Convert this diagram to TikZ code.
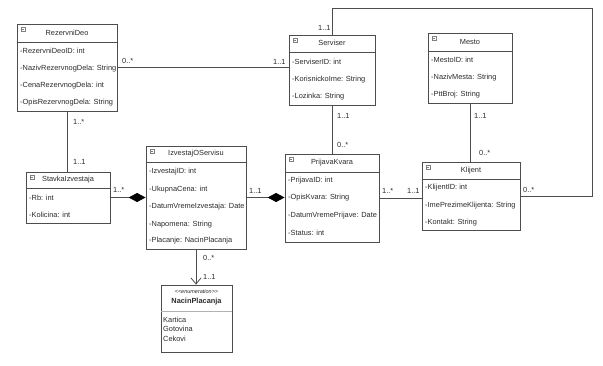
\documentclass[tikz,border=0pt]{standalone}
\usepackage{fontspec}
\newfontfamily\umlfont{Liberation Sans}
\usetikzlibrary{arrows.meta,fit}
\definecolor{linegray}{HTML}{4D4D4D}
\definecolor{textgray}{HTML}{2B2B2B}
\newcommand{\umltext}{\umlfont\fontsize{7.4}{9}\selectfont}
\tikzset{
  classbox/.style={draw=linegray, fill=white, inner sep=0pt, line width=0.8pt},
  divider/.style={draw=linegray, line width=0.6pt},
  attr/.style={anchor=west, inner sep=0pt, text=textgray, font=\umltext},
  cname/.style={inner sep=0pt, text=textgray, font=\umltext},
  mult/.style={anchor=west, inner sep=0pt, text=textgray, font=\umltext},
  assoc/.style={draw=linegray, line width=0.8pt},
  comp/.style={assoc, -{Diamond[length=17pt,width=9pt,color=black,fill=black]}},
  navig/.style={assoc, -{Straight Barb[length=6pt,width=10pt]}},
  classicon/.style={draw=gray, inner sep=0pt, minimum size=4pt, anchor=north west,
    path picture={\draw[gray, line width=0.3pt] ([xshift=0.8pt]path picture bounding box.west) -- ([xshift=-0.8pt]path picture bounding box.east);}}
}
\begin{document}
\begin{tikzpicture}[x=1pt, y=-1pt]
\useasboundingbox[fill=white] (0,0) rectangle (603,366);

% RezervniDeo
\node[classbox, fit={(17,24) (117,111)}] (rez) {};
\node[classicon] (rezI) at ([shift={(4,3)}]rez.north west) {};
\node[cname] (rezN) at (67,33) {RezervniDeo};
\draw[divider] (rez.west |- 0,42) -- (rez.east |- 0,42);
\node[attr] (rezA1) at (20,51) {-RezervniDeoID: int};
\node[attr] (rezA2) at (20,69) {-NazivRezervnogDela: String};
\node[attr] (rezA3) at (20,86) {-CenaRezervnogDela: int};
\node[attr] (rezA4) at (20,103) {-OpisRezervnogDela: String};

% Serviser
\node[classbox, fit={(289,35) (375,105)}] (serv) {};
\node[classicon] (servI) at ([shift={(4,3)}]serv.north west) {};
\node[cname] (servN) at (332,43) {Serviser};
\draw[divider] (serv.west |- 0,52) -- (serv.east |- 0,52);
\node[attr] (servA1) at (292,62) {-ServiserID: int};
\node[attr] (servA2) at (292,80) {-KorisnickoIme: String};
\node[attr] (servA3) at (292,97) {-Lozinka: String};

% Mesto
\node[classbox, fit={(428,33) (512,103)}] (mesto) {};
\node[classicon] (mestoI) at ([shift={(4,3)}]mesto.north west) {};
\node[cname] (mestoN) at (470,42) {Mesto};
\draw[divider] (mesto.west |- 0,51) -- (mesto.east |- 0,51);
\node[attr] (mestoA1) at (431,60) {-MestoID: int};
\node[attr] (mestoA2) at (431,78) {-NazivMesta: String};
\node[attr] (mestoA3) at (431,95) {-PttBroj: String};

% StavkaIzvestaja
\node[classbox, fit={(26,172) (110,223)}] (stavka) {};
\node[classicon] (stavkaI) at ([shift={(4,3)}]stavka.north west) {};
\node[cname] (stavkaN) at (68,180) {StavkaIzvestaja};
\draw[divider] (stavka.west |- 0,188) -- (stavka.east |- 0,188);
\node[attr] (stavkaA1) at (29,198) {-Rb: int};
\node[attr] (stavkaA2) at (29,215) {-Kolicina: int};

% IzvestajOServisu
\node[classbox, fit={(146,146) (246,249)}] (izv) {};
\node[classicon] (izvI) at ([shift={(4,3)}]izv.north west) {};
\node[cname] (izvN) at (196,154) {IzvestajOServisu};
\draw[divider] (izv.west |- 0,162) -- (izv.east |- 0,162);
\node[attr] (izvA1) at (149,172) {-IzvestajID: int};
\node[attr] (izvA2) at (149,190) {-UkupnaCena: int};
\node[attr] (izvA3) at (149,207) {-DatumVremeIzvestaja: Date};
\node[attr] (izvA4) at (149,225) {-Napomena: String};
\node[attr] (izvA5) at (149,241) {-Placanje: NacinPlacanja};

% PrijavaKvara
\node[classbox, fit={(285,154) (379,242)}] (prij) {};
\node[classicon] (prijI) at ([shift={(4,3)}]prij.north west) {};
\node[cname] (prijN) at (332,163) {PrijavaKvara};
\draw[divider] (prij.west |- 0,172) -- (prij.east |- 0,172);
\node[attr] (prijA1) at (288,181) {-PrijavaID: int};
\node[attr] (prijA2) at (288,198) {-OpisKvara: String};
\node[attr] (prijA3) at (288,216) {-DatumVremePrijave: Date};
\node[attr] (prijA4) at (288,233) {-Status: int};

% Klijent
\node[classbox, fit={(422,162) (520,230)}] (klij) {};
\node[classicon] (klijI) at ([shift={(4,3)}]klij.north west) {};
\node[cname] (klijN) at (471,171) {Klijent};
\draw[divider] (klij.west |- 0,179) -- (klij.east |- 0,179);
\node[attr] (klijA1) at (425,188) {-KlijentID: int};
\node[attr] (klijA2) at (425,206) {-ImePrezimeKlijenta: String};
\node[attr] (klijA3) at (425,223) {-Kontakt: String};

% NacinPlacanja
\node[classbox, fit={(161,285) (232,352)}] (enum) {};
\node[cname, font=\umlfont\fontsize{5.5}{6}\selectfont\itshape] (enumS) at (196.5,292) {<{}<enumeration>{}>};
\node[cname, font=\umlfont\fontsize{7.4}{9}\selectfont\bfseries] (enumN) at (196.5,302) {NacinPlacanja};
\draw[divider, draw=gray!60] (enum.west |- 0,311) -- (enum.east |- 0,311);
\node[attr] (enumL1) at (163,320) {Kartica};
\node[attr] (enumL2) at (163,329) {Gotovina};
\node[attr] (enumL3) at (163,339) {Cekovi};

% veze
\coordinate (loop) at (592,8);
\draw[assoc] (rez.east) -- (rez.east -| serv.west);
\draw[assoc] (rez.south) -- (rez.south |- stavka.north);
\draw[assoc] (serv.south) -- (prij.north);
\draw[assoc] (mesto.south) -- (mesto.south |- klij.north);
\draw[assoc] (serv.north) |- (loop) |- (klij.east);
\draw[assoc] (prij.east) -- (prij.east -| klij.west);
\draw[comp] (stavka.east) -- (stavka.east -| izv.west);
\draw[comp] (izv.east) -- (izv.east -| prij.west);
\draw[navig] (izv.south) -- (izv.south |- enum.north);

% kardinalnosti
\node[mult] (m1) at (122,61) {0..*};
\node[mult] (m2) at (273,62) {1..1};
\node[mult] (m3) at (73,122) {1..*};
\node[mult] (m4) at (73,162) {1..1};
\node[mult] (m5) at (318,28) {1..1};
\node[mult] (m6) at (337,116) {1..1};
\node[mult] (m7) at (337,145) {0..*};
\node[mult] (m8) at (474,116) {1..1};
\node[mult] (m9) at (479,153) {0..*};
\node[mult] (m10) at (113,190) {1..*};
\node[mult] (m11) at (249,191) {1..1};
\node[mult] (m12) at (382,191) {1..*};
\node[mult] (m13) at (407,191) {1..1};
\node[mult] (m14) at (523,190) {0..*};
\node[mult] (m15) at (203,258) {0..*};
\node[mult] (m16) at (203,277) {1..1};
\end{tikzpicture}
\end{document}
